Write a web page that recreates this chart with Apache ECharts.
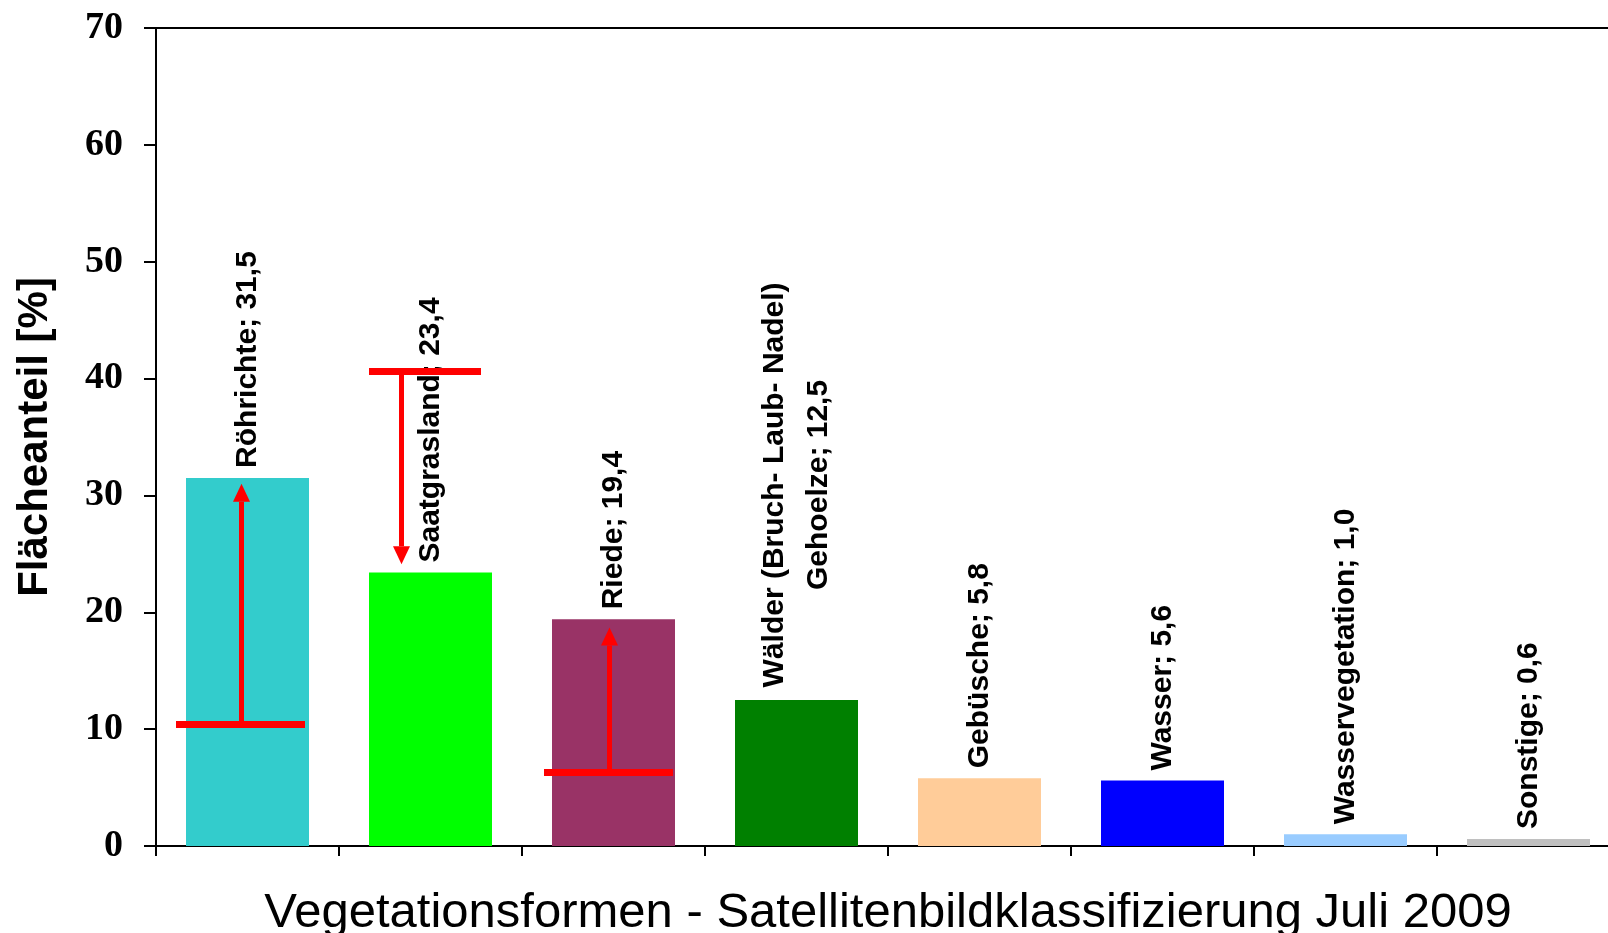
<!DOCTYPE html>
<html>
<head>
<meta charset="utf-8">
<title>Vegetationsformen – Flächenanteile</title>
<script src="https://cdn.jsdelivr.net/npm/echarts@6/dist/echarts.min.js"></script>
<style>
  html, body { margin: 0; padding: 0; background: #ffffff; }
  #chart { width: 1608px; height: 933px; }
</style>
</head>
<body>
<div id="chart"></div>
<script>
// Vegetation classes and their area share in percent (satellite classification, July 2009)
const categories = [
  'Röhrichte',
  'Saatgrasland',
  'Riede',
  'Wälder (Bruch- Laub- Nadel)\nGehoelze',
  'Gebüsche',
  'Wasser',
  'Wasservegetation',
  'Sonstige'
];
const shares = [31.5, 23.4, 19.4, 12.5, 5.8, 5.6, 1.0, 0.6];
const barColors = ['#33CCCC', '#00FF00', '#993366', '#008000', '#FFCC99', '#0000FF', '#99CCFF', '#C0C0C0'];

// Change markers: earlier share (red bar) and arrow pointing to the new level
const changeIndex = [0, 1, 2];
const changeFrom = [10.4, 40.6, 6.3];
const changeTo = [31.0, 24.1, 18.7];

// Y-axis tick values
const yTicks = [0, 10, 20, 30, 40, 50, 60, 70];

// Drawing details for the change markers (pixel paddings and arrow shift)
const markerStyle = [
  { padL: 10, padR: -4, arrowDx: -6 },
  { padL: 0, padR: -11, arrowDx: -29 },
  { padL: 8, padR: -2, arrowDx: -4 }
];

const fmt = v => v.toFixed(1).replace('.', ',');

const barData = shares.map((v, i) => {
  const item = { value: v, itemStyle: { color: barColors[i] } };
  if (categories[i].indexOf('\n') >= 0) {
    // two-line label: lines centred on each other
    item.label = { align: 'center', offset: [205, 0] };
  }
  return item;
});

const changeData = changeIndex.map((c, k) => [c, changeFrom[k], changeTo[k]]);

const chart = echarts.init(document.getElementById('chart'), null, { renderer: 'canvas' });

chart.setOption({
  backgroundColor: '#ffffff',
  animation: false,
  grid: {
    left: 156,
    top: 28,
    bottom: 87,
    width: 1464,
    show: true,
    borderColor: '#000000',
    borderWidth: 2,
    containLabel: false,
    outerBoundsMode: 'none'
  },
  xAxis: {
    type: 'category',
    data: categories,
    boundaryGap: true,
    name: 'Vegetationsformen - Satellitenbildklassifizierung Juli 2009',
    nameLocation: 'middle',
    nameGap: 43,
    nameTextStyle: {
      fontFamily: 'Liberation Sans, Arial, sans-serif',
      fontSize: 49,
      color: '#000000'
    },
    axisLine: { lineStyle: { color: '#000000', width: 2 } },
    axisTick: { show: true, interval: 0, length: 10, lineStyle: { color: '#000000', width: 2 } },
    axisLabel: { show: false, interval: 0 },
    splitLine: { show: false }
  },
  yAxis: {
    type: 'value',
    min: yTicks[0],
    max: yTicks[yTicks.length - 1],
    interval: yTicks[1] - yTicks[0],
    name: 'Flächeanteil [%]',
    nameLocation: 'middle',
    nameGap: 100,
    nameTextStyle: {
      fontFamily: 'Liberation Sans, Arial, sans-serif',
      fontWeight: 'bold',
      fontSize: 42,
      color: '#000000'
    },
    axisLine: { show: true, lineStyle: { color: '#000000', width: 2 } },
    axisTick: { show: true, length: 12, lineStyle: { color: '#000000', width: 2 } },
    axisLabel: {
      margin: 33,
      fontFamily: 'Liberation Serif, Times New Roman, serif',
      fontWeight: 'bold',
      fontSize: 38,
      color: '#000000'
    },
    splitLine: { show: false }
  },
  series: [
    {
      type: 'bar',
      data: barData,
      barWidth: 123,
      label: {
        show: true,
        position: 'top',
        rotate: 90,
        align: 'left',
        verticalAlign: 'middle',
        distance: 10,
        lineHeight: 44,
        fontFamily: 'Liberation Sans, Arial, sans-serif',
        fontWeight: 'bold',
        fontSize: 30,
        color: '#000000',
        formatter: p => p.name + '; ' + fmt(p.value)
      },
      z: 2
    },
    {
      type: 'custom',
      coordinateSystem: 'cartesian2d',
      data: changeData,
      encode: { x: 0, y: [1, 2] },
      z: 5,
      silent: true,
      renderItem: (params, api) => {
        const idx = api.value(0);
        const from = api.coord([idx, api.value(1)]);
        const to = api.coord([idx, api.value(2)]);
        const st = markerStyle[params.dataIndex];
        const half = 123 / 2;
        const cx = from[0];
        const ax = cx + st.arrowDx;
        const dir = to[1] < from[1] ? -1 : 1;
        const headLen = 18;
        const headW = 17;
        const shaftEnd = to[1] - dir * headLen;
        return {
          type: 'group',
          children: [
            {
              type: 'line',
              shape: { x1: cx - half - st.padL, y1: from[1], x2: cx + half + st.padR, y2: from[1] },
              style: { stroke: '#FF0000', lineWidth: 7 }
            },
            {
              type: 'line',
              shape: { x1: ax, y1: from[1], x2: ax, y2: shaftEnd },
              style: { stroke: '#FF0000', lineWidth: 5 }
            },
            {
              type: 'polygon',
              shape: { points: [[ax - headW / 2, shaftEnd], [ax + headW / 2, shaftEnd], [ax, to[1]]] },
              style: { fill: '#FF0000' }
            }
          ]
        };
      }
    }
  ]
});
</script>
</body>
</html>
